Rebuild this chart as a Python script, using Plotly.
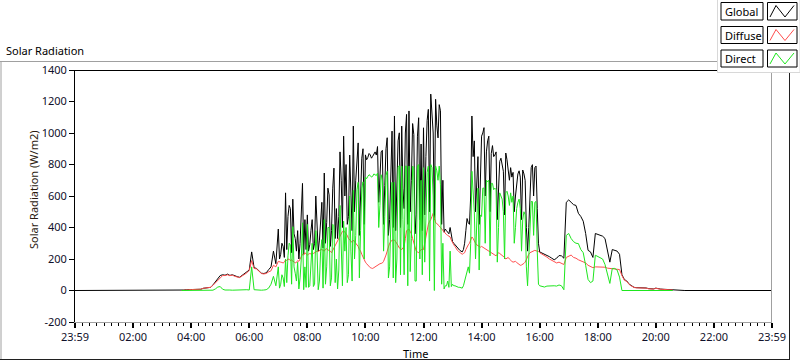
import plotly.graph_objects as go

# sample times: 03:40 .. 21:00 every 5 minutes (minutes after midnight)
minutes = list(range(220, 1265, 5))
# extra samples between 07:00 and 16:00 (half-way between the 5-min samples)
mid_minutes = [m + 2.5 for m in range(420, 960, 5)]

# Global radiation (W/m2) at the 5-min samples
global_wm2 = (
    [0, 3, 5, 5] +
    [6, 6, 7, 7, 8, 14, 17, 17, 20, 35, 55, 75] +                       # 04
    [95, 100, 97, 104, 96, 100, 92, 88, 84, 95, 105, 118] +             # 05
    [130, 245, 145, 140, 125, 110, 108, 112, 132, 150, 250, 170] +      # 06
    [390, 230, 280, 620, 470, 520, 580, 330, 380, 300, 680, 450] +      # 07
    [480, 290, 450, 300, 400, 320, 560, 746, 430, 607, 380, 777] +      # 08
    [520, 470, 700, 980, 800, 470, 575, 1044, 700, 937, 620, 900] +     # 09
    [861, 845, 861, 852, 880, 914, 700, 890, 666, 970, 450, 1012] +     # 10
    [1108, 600, 1001, 1044, 520, 1118, 1140, 700, 990, 480, 1097, 930] +  # 11
    [1033, 850, 1150, 1247, 1000, 1214, 969, 1141, 700, 390, 370, 400] +  # 12
    [310, 290, 270, 255, 245, 300, 457, 420, 1108, 950, 700, 420] +     # 13
    [980, 1034, 880, 980, 870, 850, 880, 700, 840, 757, 873, 780] +     # 14
    [780, 750, 600, 740, 720, 765, 700, 250, 600, 799, 780, 520] +      # 15
    [245, 238, 232, 225, 215, 205, 195, 205, 222, 220, 205, 560] +      # 16
    [575, 560, 545, 540, 490, 470, 440, 362, 255, 245, 210, 362] +      # 17
    [355, 352, 345, 330, 245, 180, 260, 255, 250, 230, 100, 70] +       # 18
    [60, 40, 30, 20, 18, 18, 17, 17, 16, 12, 10, 10] +                  # 19
    [15, 10, 9, 8, 7, 6, 5, 4, 3, 0, 0, 0] +                            # 20
    [0]
)
global_mid = (
    [200, 300, 210, 260, 540, 240, 360, 250, 200, 450, 230, 260] +      # 07
    [250, 380, 260, 600, 250, 480, 270, 300, 650, 280, 650, 330] +      # 08
    [330, 880, 400, 600, 420, 860, 380, 500, 850, 350, 840, 420] +      # 09
    [830, 870, 840, 870, 860, 560, 880, 420, 900, 350, 700, 400] +      # 10
    [380, 950, 400, 650, 1000, 420, 500, 1060, 360, 980, 450, 380] +    # 11
    [480, 1080, 500, 1100, 450, 1050, 1180, 420, 370, 380, 360, 350] +  # 12
    [300, 280, 262, 250, 260, 380, 430, 600, 850, 500, 850, 700] +      # 13
    [1000, 600, 950, 500, 920, 860, 450, 820, 800, 480, 830, 700] +     # 14
    [720, 500, 700, 760, 450, 740, 400, 400, 780, 600, 790, 300]        # 15
)

# Diffuse radiation (W/m2)
diffuse_wm2 = (
    [0, 3, 5, 5] +
    [6, 6, 7, 7, 8, 14, 17, 17, 20, 33, 50, 68] +
    [85, 95, 95, 100, 94, 98, 90, 86, 82, 92, 100, 112] +
    [128, 190, 140, 137, 123, 108, 105, 108, 118, 125, 160, 150] +
    [185, 180, 175, 195, 200, 190, 185, 175, 190, 200, 230, 240] +
    [225, 235, 230, 240, 250, 255, 260, 250, 265, 255, 240, 270] +
    [300, 340, 365, 380, 360, 330, 310, 320, 300, 280, 250, 210] +
    [180, 160, 145, 140, 150, 165, 170, 175, 200, 250, 300, 320] +
    [320, 300, 270, 260, 280, 380, 390, 360, 300, 250, 240, 260] +
    [260, 350, 420, 450, 490, 430, 420, 400, 380, 360, 350, 340] +
    [300, 280, 255, 240, 230, 240, 280, 300, 340, 310, 290, 280] +
    [280, 270, 260, 250, 240, 230, 220, 240, 230, 220, 200, 210] +
    [190, 180, 185, 170, 160, 165, 180, 220, 240, 250, 255, 250] +
    [240, 232, 222, 212, 200, 190, 180, 175, 180, 175, 165, 210] +
    [220, 225, 210, 205, 195, 190, 180, 175, 160, 150, 145, 150] +
    [150, 152, 150, 148, 142, 140, 138, 136, 135, 133, 95, 65] +
    [58, 38, 28, 19, 17, 17, 16, 16, 15, 11, 9, 9] +
    [14, 9, 8, 7, 6, 5, 4, 3, None, None, None, None] +
    [None]
)
diffuse_mid = (
    [180, 178, 180, 190, 198, 195, 183, 178, 185, 205, 225, 232] +
    [230, 232, 235, 245, 248, 258, 255, 262, 258, 250, 255, 285] +
    [320, 355, 375, 370, 350, 320, 305, 310, 290, 260, 230, 200] +
    [170, 150, 142, 145, 158, 168, 172, 185, 225, 280, 310, 320] +
    [310, 285, 265, 270, 330, 385, 375, 330, 275, 245, 250, 260] +
    [300, 390, 440, 470, 460, 425, 410, 390, 370, 355, 345, 320] +
    [290, 265, 248, 235, 235, 260, 290, 320, 330, 300, 285, 275] +
    [275, 265, 255, 245, 235, 225, 230, 235, 225, 210, 205, 200] +
    [185, 182, 178, 165, 162, 172, 200, 230, 245, 252, 252, 248]
)

# Direct radiation (W/m2)
direct_wm2 = (
    [0, 0, 0, 0] +
    [0, 0, 0, 0, 0, 0, 0, 0, 0, 2, 10, 22] +
    [25, 8, 3, 5, 3, 2, 3, 2, 2, 3, 4, 5] +
    [3, 150, 5, 3, 2, 2, 3, 5, 15, 40, 90, 30] +
    [150, 40, 80, 200, 220, 290, 405, 110, 180, 80, 430, 150] +
    [420, 30, 300, 40, 250, 60, 323, 450, 150, 400, 80, 412] +
    [200, 130, 300, 440, 400, 100, 250, 636, 350, 687, 380, 690] +
    [720, 725, 730, 725, 735, 745, 540, 700, 470, 757, 150, 687] +
    [687, 200, 793, 790, 100, 790, 790, 330, 780, 60, 800, 700] +
    [780, 500, 790, 800, 600, 790, 700, 671, 300, 30, 60, 250] +
    [40, 30, 25, 20, 15, 60, 130, 110, 757, 500, 450, 130] +
    [470, 650, 700, 700, 680, 640, 640, 400, 600, 500, 620, 600] +
    [620, 600, 400, 560, 520, 450, 480, 30, 400, 565, 560, 250] +
    [30, 25, 22, 28, 30, 32, 30, 28, 35, 30, 5, 350] +
    [362, 330, 310, 300, 298, 260, 240, 160, 70, 50, 60, 224] +
    [215, 210, 200, 165, 107, 45, 140, 140, 130, 85, 0, 0] +
    [0, 0, 0, 0, 0, 0, 0, 0, 0, 0, 0, 0] +
    [0, 0, 0, 0, 0, 0, 0, 0, None, None, None, None] +
    [None]
)
direct_mid = (
    [15, 100, 25, 50, 300, 40, 150, 60, 10, 200, 5, 20] +
    [20, 150, 25, 380, 5, 250, 15, 40, 400, 30, 420, 50] +
    [10, 540, 30, 250, 50, 600, 60, 200, 640, 80, 650, 200] +
    [710, 735, 720, 740, 730, 400, 735, 250, 730, 80, 500, 80] +
    [50, 780, 100, 450, 790, 30, 120, 790, 60, 790, 200, 100] +
    [180, 750, 60, 780, 0, 760, 790, 40, 10, 30, 20, 25] +
    [30, 25, 20, 15, 30, 100, 150, 300, 620, 200, 650, 480] +
    [650, 300, 690, 220, 680, 650, 180, 620, 580, 200, 630, 540] +
    [560, 300, 520, 580, 250, 500, 150, 180, 565, 350, 565, 40]
)

x_tick_vals = [0, 2, 4, 6, 8, 10, 12, 14, 16, 18, 20, 22, 24]
x_tick_text = ["23:59", "02:00", "04:00", "06:00", "08:00", "10:00", "12:00",
               "14:00", "16:00", "18:00", "20:00", "22:00", "23:59"]
y_tick_vals = [-200, 0, 200, 400, 600, 800, 1000, 1200, 1400]
y_tick_text = ["-200", "0", "200", "400", "600", "800", "1000", "1200", "1400"]

series_names = ["Global", "Diffuse", "Direct"]
series_colors = ["#000000", "#ff4d4d", "#1ee61e"]

samples = sorted(zip(minutes + mid_minutes, global_wm2 + global_mid,
                     diffuse_wm2 + diffuse_mid, direct_wm2 + direct_mid))
hours = [s[0] / 60 for s in samples]
g_vals = [s[1] for s in samples]
d_vals = [s[2] for s in samples]
r_vals = [s[3] for s in samples]

fig = go.Figure()
fig.add_trace(go.Scatter(x=[0] + hours + [24], y=[0] + g_vals + [0], mode="lines",
                         line=dict(color=series_colors[0], width=1), name=series_names[0]))
fig.add_trace(go.Scatter(x=hours, y=d_vals, mode="lines",
                         line=dict(color=series_colors[1], width=1), name=series_names[1]))
fig.add_trace(go.Scatter(x=hours, y=r_vals, mode="lines",
                         line=dict(color=series_colors[2], width=1), name=series_names[2]))

W, H = 800, 361
L, R, T, B = 75, 772, 70, 322
PW, PH = R - L, B - T


def px(xp):
    return (xp - L) / PW


def py(yp):
    return (B - yp) / PH


FONT = "Segoe UI, Noto Sans, DejaVu Sans, sans-serif"
FS = 11

shapes = []


def line(x0, y0, x1, y1, color, width=1):
    shapes.append(dict(type="line", xref="paper", yref="paper",
                       x0=px(x0), y0=py(y0), x1=px(x1), y1=py(y1),
                       line=dict(color=color, width=width)))


# outer frame (bevel)
line(0, 61.5, 718, 61.5, "#a0a0a0")
line(1, 61.5, 1, 359.5, "#a0a0a0")
line(0, 359.5, 790, 359.5, "#202020")
line(789.5, 73, 789.5, 359.5, "#202020")
# plot area edges
line(L, 70.5, R, 70.5, "#000000")
line(R - 0.5, 70.5, R - 0.5, B, "#a0a0a0")

# legend panel
shapes.append(dict(type="rect", xref="paper", yref="paper",
                   x0=px(717.5), x1=px(800), y0=py(72.5), y1=py(-1),
                   line=dict(color="#d8d8d8", width=1), fillcolor="#ffffff", layer="above"))

annotations = [
    dict(text="Solar Radiation", x=px(4), y=py(50), xref="paper", yref="paper",
         xanchor="left", yanchor="middle", showarrow=False, font=dict(size=FS, color="#000", family=FONT)),
    dict(text="Solar Radiation (W/m2)", x=px(33), y=py(190), xref="paper", yref="paper",
         textangle=-90, xanchor="center", yanchor="middle", showarrow=False,
         font=dict(size=FS, color="#2a1a10", family=FONT)),
    dict(text="Time", x=px(415), y=py(353), xref="paper", yref="paper",
         xanchor="center", yanchor="middle", showarrow=False, font=dict(size=FS, color="#000", family=FONT)),
]

rows = [(2.5, 20), (26.5, 43.5), (50, 67)]
for name, color, (yt, yb) in zip(series_names, series_colors, rows):
    shapes.append(dict(type="rect", xref="paper", yref="paper",
                       x0=px(721), x1=px(763), y0=py(yb), y1=py(yt),
                       line=dict(color="#000", width=1), fillcolor="#fff", layer="above"))
    shapes.append(dict(type="rect", xref="paper", yref="paper",
                       x0=px(767.5), x1=px(797), y0=py(yb), y1=py(yt),
                       line=dict(color="#000", width=1), fillcolor="#fff", layer="above"))
    pts = [(770, yb - 3), (776, yt + 3), (785, yb - 3), (794, yt + 3)]
    path = "M " + " L ".join(f"{px(a):.5f},{py(b):.5f}" for a, b in pts)
    shapes.append(dict(type="path", xref="paper", yref="paper", path=path,
                       line=dict(color=color, width=1), layer="above"))
    annotations.append(dict(text=name, x=px(723), y=py((yt + yb) / 2), xref="paper", yref="paper",
                            xanchor="left", yanchor="middle", showarrow=False,
                            font=dict(size=FS, color="#000", family=FONT)))

fig.update_layout(
    width=W, height=H,
    margin=dict(l=L, r=W - R, t=T, b=H - B, pad=0),
    paper_bgcolor="#ffffff", plot_bgcolor="#ffffff",
    showlegend=False,
    font=dict(family=FONT, size=FS, color="#000"),
    shapes=shapes, annotations=annotations,
    xaxis=dict(range=[0, 24], tickvals=x_tick_vals, ticktext=x_tick_text,
               ticks="outside", ticklen=5, tickwidth=2, tickcolor="#000",
               showline=True, linecolor="#a0a0a0", linewidth=1,
               showgrid=False, zeroline=False,
               minor=dict(dtick=0.25, tick0=0, ticks="outside", ticklen=3, tickwidth=1,
                          tickcolor="#000", showgrid=False),
               tickfont=dict(size=FS, color="#10102a", family=FONT), fixedrange=True),
    yaxis=dict(range=[-200, 1400], tickvals=y_tick_vals, ticktext=y_tick_text,
               ticks="outside", ticklen=5, tickwidth=1, tickcolor="#000",
               showline=True, linecolor="#000", linewidth=1,
               showgrid=False, zeroline=False,
               tickfont=dict(size=FS, color="#10102a", family=FONT), fixedrange=True),
)

fig.write_html("out.html", config={"displayModeBar": False},
               post_script="document.body.style.margin='0';document.body.style.padding='0';")
